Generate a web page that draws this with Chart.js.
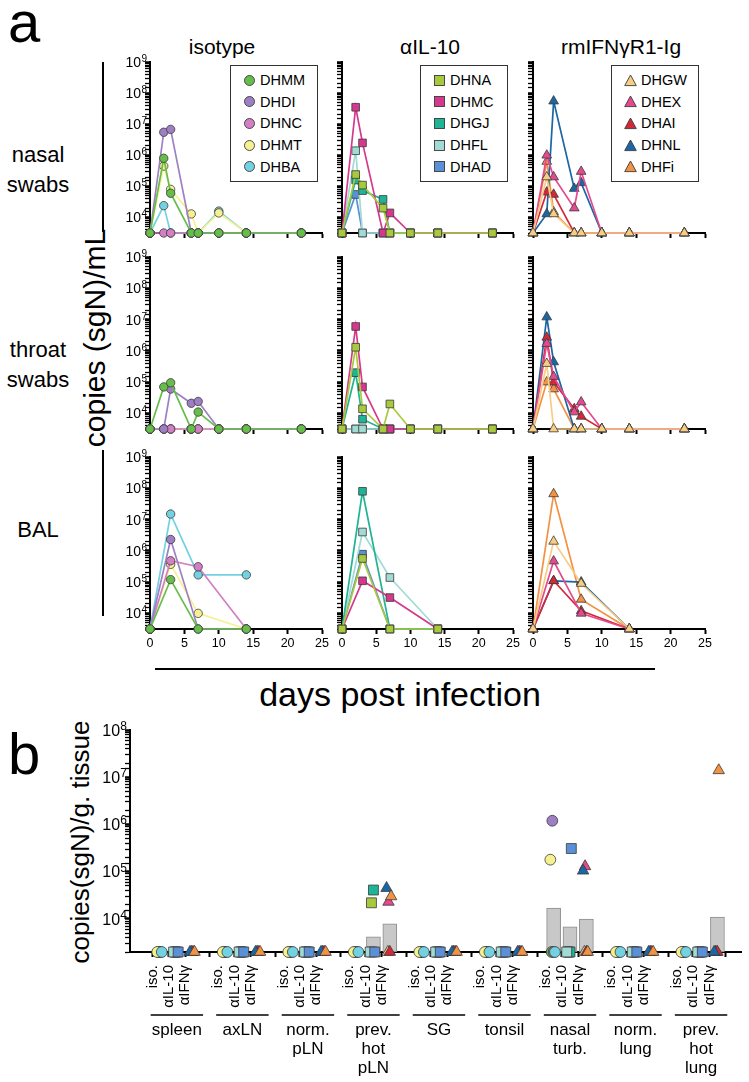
<!DOCTYPE html>
<html>
<head>
<meta charset="utf-8">
<script src="https://cdn.jsdelivr.net/npm/chart.js@4.4.1/dist/chart.umd.min.js"></script>
<style>
  body { margin: 0; background: #fff; font-family: "Liberation Sans", Arial, sans-serif; color: #000; }
  #page { position: relative; width: 749px; height: 1082px; overflow: hidden; background: #fff; }
  .abs { position: absolute; white-space: nowrap; }
  .ctr { transform: translate(-50%, -50%); text-align: center; }
  .rot { transform: translate(-50%, -50%) rotate(-90deg); }
  .vline { position: absolute; width: 1.5px; background: #000; }
  .hline { position: absolute; height: 1.5px; background: #000; }
  .legend { position: absolute; border: 1.5px solid #333; box-sizing: border-box; background: #fff; }
  .legend div { position: absolute; left: 12px; height: 18px; display: flex; align-items: center; font-size: 14.5px; }
  .legend svg { margin-right: 4px; }
  canvas { position: absolute; }
</style>
</head>
<body>
<div id="page">
  <div class="abs" style="left:8px; top:-12px; font-size:58px;">a</div>
  <div class="abs" style="left:8px; top:720px; font-size:58px;">b</div>

  <div class="abs ctr" style="left:222px; top:47px; font-size:21px;">isotype</div>
  <div class="abs ctr" style="left:430px; top:47px; font-size:21px;">αIL-10</div>
  <div class="abs ctr" style="left:621px; top:47px; font-size:21px;">rmIFNγR1-Ig</div>

  <div class="abs ctr" style="left:38px; top:170px; font-size:22px; line-height:30px;">nasal<br>swabs</div>
  <div class="abs ctr" style="left:38px; top:365px; font-size:22px; line-height:30px;">throat<br>swabs</div>
  <div class="abs ctr" style="left:38px; top:530px; font-size:22px;">BAL</div>
  <div class="vline" style="left:102px; top:62px; height:170px;"></div>
  <div class="vline" style="left:102px; top:450px; height:166px;"></div>

  <div class="abs rot" style="left:95px; top:338px; font-size:30px;">copies (sgN)/mL</div>
  <div class="hline" style="left:155px; top:668px; width:500px;"></div>
  <div class="abs ctr" style="left:400px; top:694px; font-size:34px;">days post infection</div>

  <div class="abs rot" style="left:80px; top:842px; font-size:26px;">copies(sgN)/g. tissue</div>
</div>

<script>
// ---------- data ----------
const L = 3162;   // below detection (panel a), drawn on the axis
const LB = 2000;  // below detection (panel b)

const swabDays = [0, 2, 3, 6, 7, 10, 14, 22];
const balDays = [0, 3, 7, 14];

const isoAnimals = ['DHMM', 'DHDI', 'DHNC', 'DHMT', 'DHBA'];
const il10Animals = ['DHNA', 'DHMC', 'DHGJ', 'DHFL', 'DHAD'];
const ifnAnimals = ['DHGW', 'DHEX', 'DHAI', 'DHNL', 'DHFi'];

// nasal swabs, one row per animal, values at swabDays
const nasalIso = [
  [L, 8.0e5, 6.0e4, L, L, L, L, L],
  [L, 5.5e6, 6.8e6, L, L, L, L, L],
  [L, L, L, L, L, L, L, L],
  [L, 4.5e5, 8.0e4, 1.3e4, L, 1.4e4, L, L],
  [L, 2.4e4, L, L, L, 1.6e4, L, L]
];
const nasalIL10 = [
  [L, 2.4e5, 1.1e5, 2.0e4, L, L, L, L],
  [L, 3.5e7, 2.5e6, L, 1.4e4, L, L, L],
  [L, 1.6e5, 7.3e4, 3.8e4, L, L, L, L],
  [L, 1.4e6, L, L, L, L, L, L],
  [L, 5.5e4, L, L, L, L, L, L]
];
const nasalIFN = [
  [L, 2.0e5, 1.3e4, L, L, L, L, L],
  [L, 1.0e6, 2.0e5, 2.0e4, 3.0e5, L, L, L],
  [L, 6.5e4, 5.5e4, L, L, L, L, L],
  [L, 1.3e4, 5.5e7, 8.5e4, 1.3e5, L, L, L],
  [L, 6.3e5, 1.5e4, L, L, L, L, L]
];

// throat swabs
const throatIso = [
  [L, 7.0e4, 9.5e4, L, 1.1e4, L, L, L],
  [L, L, 6.0e4, 2.1e4, 2.4e4, L, L, L],
  [L, L, L, L, L, L, L, L],
  [L, L, L, L, L, L, L, L],
  [L, L, L, L, L, L, L, L]
];
const throatIL10 = [
  [L, 1.3e6, 1.4e4, L, 2.0e4, L, L, L],
  [L, 6.0e6, 7.0e4, L, L, L, L, L],
  [L, 2.0e5, 6.5e3, L, L, L, L, L],
  [L, L, L, L, L, L, L, L],
  [L, L, L, L, L, L, L, L]
];
const throatIFN = [
  [L, 3.9e5, L, L, L, L, L, L],
  [L, 1.7e6, 1.5e5, 1.1e4, 2.3e4, L, L, L],
  [L, 2.7e6, 1.0e5, 1.4e4, 8.0e3, L, L, L],
  [L, 1.2e7, 4.4e5, L, L, L, L, L],
  [L, 1.0e5, 6.0e4, L, L, L, L, L]
];

// BAL, values at balDays
const balIso = [
  [L, 1.2e5, L, L],
  [L, 2.3e6, L, L],
  [L, 4.8e5, 3.1e5, L],
  [L, 3.7e5, 1.0e4, L],
  [L, 1.5e7, 1.7e5, 1.7e5]
];
const balIL10 = [
  [L, 5.7e5, L, L],
  [L, 1.1e5, 3.2e4, L],
  [L, 8.0e7, L, L],
  [L, 4.0e6, 1.4e5, L],
  [L, 7.8e5, L, L]
];
const balIFN = [
  [L, 2.0e6, 9.0e4, L],
  [L, 4.7e5, 1.0e4, L],
  [L, 1.1e5, 1.2e4, L],
  [L, 1.1e5, 1.0e5, L],
  [L, 6.6e7, 2.8e4, L]
];

// panel b: tissues, one row per animal
const tissues = [['spleen'], ['axLN'], ['norm.', 'pLN'], ['prev.', 'hot', 'pLN'], ['SG'], ['tonsil'],
                 ['nasal', 'turb.'], ['norm.', 'lung'], ['prev.', 'hot', 'lung']];
const treatLabels = ['iso.', 'αIL-10', 'αIFNγ'];

const tissueIso = [
  [LB, LB, LB, LB, LB, LB, LB, LB, LB],
  [LB, LB, LB, LB, LB, LB, 1.2e6, LB, LB],
  [LB, LB, LB, LB, LB, LB, LB, LB, LB],
  [LB, LB, LB, LB, LB, LB, 1.8e5, LB, LB],
  [LB, LB, LB, LB, LB, LB, LB, LB, LB]
];
const tissueIL10 = [
  [LB, LB, LB, 2.2e4, LB, LB, LB, LB, LB],
  [LB, LB, LB, LB, LB, LB, LB, LB, LB],
  [LB, LB, LB, 4.1e4, LB, LB, LB, LB, LB],
  [LB, LB, LB, LB, LB, LB, LB, LB, LB],
  [LB, LB, LB, LB, LB, LB, 3.1e5, LB, LB]
];
const tissueIFN = [
  [LB, LB, LB, LB, LB, LB, LB, LB, LB],
  [LB, LB, LB, 2.3e4, LB, LB, 1.3e5, LB, LB],
  [LB, LB, LB, LB, LB, LB, LB, LB, LB],
  [LB, LB, LB, 4.5e4, LB, LB, 1.05e5, LB, LB],
  [LB, LB, LB, 3.0e4, LB, LB, LB, LB, 1.4e7]
];
const barIso = [null, null, null, null, null, null, 1.7e4, null, null];
const barIL10 = [null, null, null, 4.2e3, null, null, 6.8e3, null, null];
const barIFN = [null, null, null, 7.9e3, null, null, 1.0e4, null, 1.1e4];

// ---------- styling ----------
const FONT = '"Liberation Sans", Arial, sans-serif';
Chart.defaults.font.family = FONT;
Chart.defaults.color = '#000';

const isoColors = ['#67bd4a', '#9f7fc4', '#d27fc3', '#f6f18e', '#72d2e2'];
const il10Colors = ['#a9c93d', '#d5388d', '#1fb496', '#a2dbd4', '#5b8fd6'];
const ifnColors = ['#f7cd84', '#e5498f', '#d3283a', '#1b66a5', '#f39243'];
const groups = [
  { names: isoAnimals, colors: isoColors, shape: 'circle', r: 4.2 },
  { names: il10Animals, colors: il10Colors, shape: 'rect', r: 5.4 },
  { names: ifnAnimals, colors: ifnColors, shape: 'triangle', r: 5.6 }
];
const EDGE = '#3a3a3a';

const isPow10 = v => v > 0 && Math.abs(Math.log10(v) - Math.round(Math.log10(v))) < 1e-9;

// draws "10" with a raised exponent next to each decade tick of the y scale
const supTicks = {
  id: 'supTicks',
  afterDraw(chart, args, opts) {
    if (!opts.show) return;
    const s = chart.scales.y;
    const ctx = chart.ctx;
    ctx.save();
    ctx.fillStyle = '#000';
    ctx.textAlign = 'right';
    ctx.textBaseline = 'alphabetic';
    s.ticks.forEach(t => {
      if (!isPow10(t.value) || t.value < opts.from) return;
      const y = s.getPixelForValue(t.value);
      const xr = s.right - opts.gap;
      const e = String(Math.round(Math.log10(t.value)));
      ctx.font = opts.sup + 'px ' + FONT;
      const ew = ctx.measureText(e).width;
      ctx.fillText(e, xr, y + opts.supShift);
      ctx.font = opts.base + 'px ' + FONT;
      ctx.fillText('10', xr - ew - 0.3, y + opts.base * 0.36);
    });
    ctx.restore();
  }
};

const page = document.getElementById('page');
function addCanvas(left, top, w, h) {
  const c = document.createElement('canvas');
  c.width = w; c.height = h;
  c.style.left = left + 'px'; c.style.top = top + 'px';
  c.style.width = w + 'px'; c.style.height = h + 'px';
  page.appendChild(c);
  return c;
}

// ---------- panel a ----------
const AREA_TOP = [62, 257, 457];
const AREA_BOTTOM = [233, 429, 629];
const AREA_LEFT = [150, 342, 533];
const AREA_RIGHT = [322, 513, 705];
const Y_AXIS_W = [62, 14, 14];
const X_AXIS_H = [10, 10, 28];

const panelData = [
  [nasalIso, nasalIL10, nasalIFN],
  [throatIso, throatIL10, throatIFN],
  [balIso, balIL10, balIFN]
];

function makeSub(row, col) {
  const g = groups[col];
  const days = row === 2 ? balDays : swabDays;
  const left = AREA_LEFT[col] - Y_AXIS_W[col];
  const top = AREA_TOP[row] - 8;
  const w = AREA_RIGHT[col] - left + 10;
  const h = AREA_BOTTOM[row] - top + X_AXIS_H[row];
  const canvas = addCanvas(left, top, w, h);

  const datasets = panelData[row][col].map((vals, i) => ({
    label: g.names[i],
    data: days.map((d, k) => ({ x: d, y: vals[k] })),
    borderColor: g.colors[i],
    borderWidth: 1.7,
    pointStyle: g.shape,
    pointRadius: g.r,
    pointBackgroundColor: g.colors[i],
    pointBorderColor: EDGE,
    pointBorderWidth: 0.8,
    clip: false,
    tension: 0
  }));

  new Chart(canvas, {
    type: 'line',
    data: { datasets },
    options: {
      responsive: false,
      animation: false,
      devicePixelRatio: 1,
      layout: { padding: { top: 8, right: 10, left: 0, bottom: 0 } },
      plugins: {
        legend: { display: false },
        tooltip: { enabled: false },
        supTicks: { show: col === 0, from: 1e4, base: 14, sup: 10, supShift: 0, gap: 3 }
      },
      scales: {
        x: {
          type: 'linear', min: 0, max: 25,
          afterFit: s => { s.height = X_AXIS_H[row]; s.paddingLeft = 0; s.paddingRight = 0; },
          border: { display: true, color: '#000', width: 2 },
          grid: { drawOnChartArea: false, drawTicks: true, tickLength: 5, tickColor: '#000', tickWidth: 2 },
          ticks: { display: row === 2, stepSize: 5, autoSkip: false, maxRotation: 0, padding: 2,
                   font: { size: 12.5 }, color: '#000' }
        },
        y: {
          type: 'logarithmic', min: L, max: 1e9,
          afterFit: s => { s.width = Y_AXIS_W[col]; s.paddingTop = 0; s.paddingBottom = 0; },
          border: { display: true, color: '#000', width: 2 },
          grid: { drawOnChartArea: false, drawTicks: true, tickLength: 5, tickColor: '#000',
                  tickWidth: c => (c.tick && isPow10(c.tick.value)) ? 2.5 : 1.3 },
          ticks: { autoSkip: false, padding: 1, color: '#000', callback: () => '' }
        }
      }
    },
    plugins: [supTicks]
  });
}

for (let r = 0; r < 3; r++) for (let c = 0; c < 3; c++) makeSub(r, c);

// legends (top row)
const LEGEND_LEFT = [230, 420, 611];
function markerSvg(shape, color) {
  let s;
  if (shape === 'circle') s = `<circle cx="6.5" cy="6.5" r="5" fill="${color}" stroke="${EDGE}" stroke-width="0.9"/>`;
  else if (shape === 'rect') s = `<rect x="1.5" y="1.5" width="10" height="10" fill="${color}" stroke="${EDGE}" stroke-width="0.9"/>`;
  else s = `<polygon points="6.5,1 12.3,11.6 0.7,11.6" fill="${color}" stroke="${EDGE}" stroke-width="0.9"/>`;
  return `<svg width="13" height="13" viewBox="0 0 13 13">${s}</svg>`;
}
groups.forEach((g, col) => {
  const box = document.createElement('div');
  box.className = 'legend';
  box.style.left = LEGEND_LEFT[col] + 'px';
  box.style.top = '65px';
  box.style.width = '88px';
  box.style.height = '117px';
  g.names.forEach((n, i) => {
    const item = document.createElement('div');
    item.style.top = (5 + i * 21.7) + 'px';
    item.innerHTML = markerSvg(g.shape, g.colors[i]) + '<span>' + n + '</span>';
    box.appendChild(item);
  });
  page.appendChild(box);
});

// ---------- panel b ----------
const groupBrackets = {
  id: 'groupBrackets',
  afterDraw(chart) {
    const { ctx } = chart;
    const xs = chart.scales.x;
    const y0 = chart.chartArea.bottom + 63;
    ctx.save();
    ctx.strokeStyle = '#000';
    ctx.lineWidth = 1.5;
    ctx.fillStyle = '#000';
    ctx.font = '17px ' + FONT;
    ctx.textAlign = 'center';
    ctx.textBaseline = 'middle';
    tissues.forEach((lines, gi) => {
      const c = gi * 4 + 1;
      ctx.beginPath();
      ctx.moveTo(xs.getPixelForValue(c - 1.6), y0);
      ctx.lineTo(xs.getPixelForValue(c + 1.6), y0);
      ctx.stroke();
      lines.forEach((t, k) => ctx.fillText(t, xs.getPixelForValue(c), y0 + 15 + k * 19));
    });
    ctx.restore();
  }
};

const catPos = [];
tissues.forEach((t, gi) => treatLabels.forEach((tl, k) => catPos.push(gi * 4 + k)));

const tissueData = [tissueIso, tissueIL10, tissueIFN];
const barData = [barIso, barIL10, barIFN];
const jitter = [-0.12, -0.08, 0, -0.2, 0.08];
const bRadius = [5.4, 7, 6.6];

const bDatasets = [];
const bars = [];
barData.forEach((arr, k) => arr.forEach((v, gi) => {
  if (v !== null) bars.push({ x: gi * 4 + k, y: [LB, v] });
}));
bDatasets.push({
  type: 'bar', data: bars, backgroundColor: '#c8c8c8', borderColor: '#8c8c8c', borderWidth: 1,
  barThickness: 14, order: 100, borderSkipped: false
});
groups.forEach((g, k) => {
  tissueData[k].forEach((vals, i) => {
    bDatasets.push({
      type: 'scatter',
      label: g.names[i],
      data: vals.map((v, gi) => ({ x: gi * 4 + k + jitter[i], y: v })),
      pointStyle: g.shape,
      pointRadius: bRadius[k],
      backgroundColor: g.colors[i],
      borderColor: EDGE,
      borderWidth: 0.8,
      clip: false,
      order: 50 - i
    });
  });
});

const bCanvas = addCanvas(60, 720, 689, 362);
new Chart(bCanvas, {
  type: 'scatter',
  data: { datasets: bDatasets },
  options: {
    responsive: false,
    animation: false,
    devicePixelRatio: 1,
    layout: { padding: { top: 10, right: 3, left: 0, bottom: 0 } },
    plugins: {
      legend: { display: false },
      tooltip: { enabled: false },
      supTicks: { show: true, from: 1e4, base: 16, sup: 12, supShift: 0, gap: 3 }
    },
    scales: {
      x: {
        type: 'linear', min: -1.17, max: 34.76,
        afterBuildTicks: s => { s.ticks = catPos.map(v => ({ value: v })); },
        afterFit: s => { s.height = 130; s.paddingLeft = 0; s.paddingRight = 0; },
        border: { display: true, color: '#000', width: 2 },
        grid: { drawOnChartArea: false, drawTicks: true, tickLength: 5, tickColor: '#000', tickWidth: 2 },
        ticks: { autoSkip: false, minRotation: 90, maxRotation: 90, padding: 8, labelOffset: -8,
                 font: { size: 15 }, color: '#000', callback: (v, i) => treatLabels[i % 3] }
      },
      y: {
        type: 'logarithmic', min: LB, max: 1e8,
        afterFit: s => { s.width = 70; s.paddingTop = 0; s.paddingBottom = 0; },
        border: { display: true, color: '#000', width: 2 },
        grid: { drawOnChartArea: false, drawTicks: true, tickLength: 5, tickColor: '#000',
                tickWidth: c => (c.tick && isPow10(c.tick.value)) ? 2.5 : 1.3 },
        ticks: { autoSkip: false, padding: 1, color: '#000', callback: () => '' }
      }
    }
  },
  plugins: [groupBrackets, supTicks]
});
</script>
</body>
</html>
